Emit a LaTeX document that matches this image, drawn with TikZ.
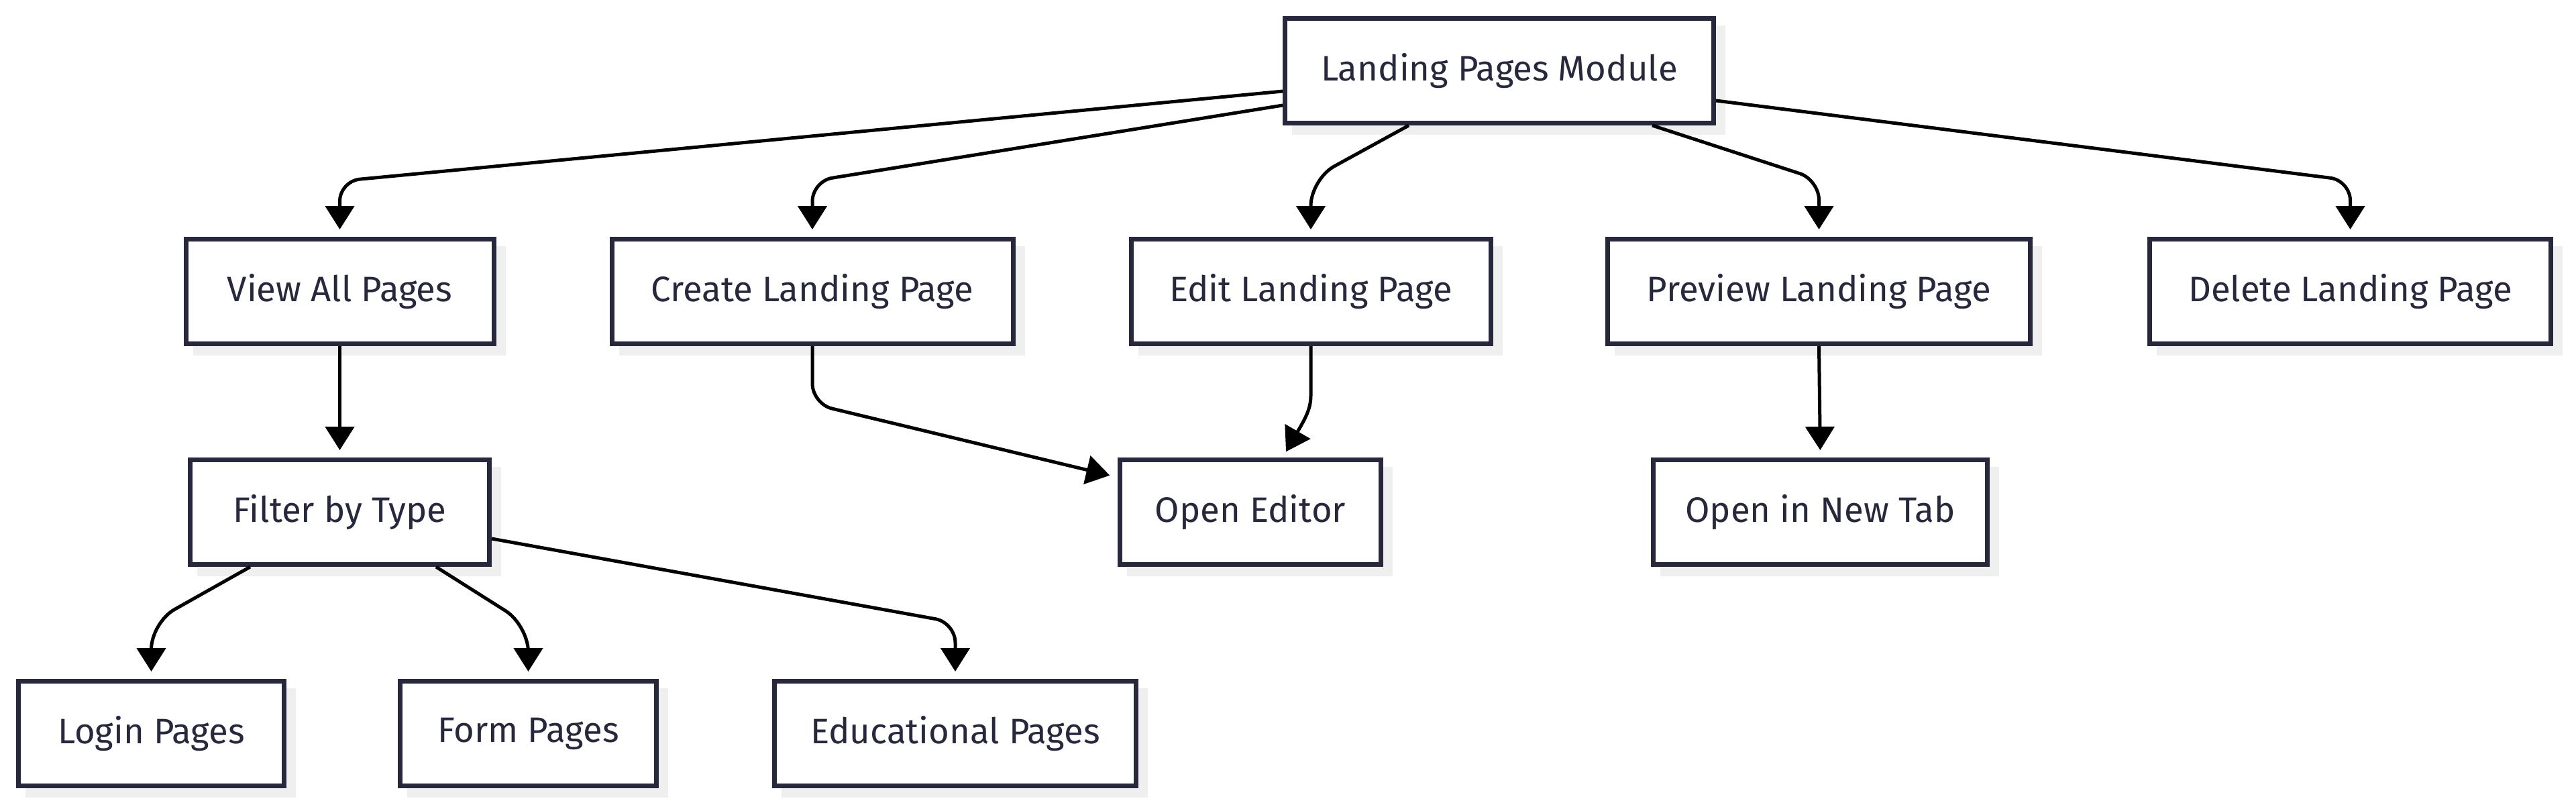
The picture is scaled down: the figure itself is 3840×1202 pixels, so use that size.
\documentclass[tikz,border=0pt]{standalone}
\usepackage{fontspec}
\setmainfont{Fira Sans}
\usetikzlibrary{arrows.meta,calc,shadows}
\definecolor{bordc}{RGB}{40,40,61}
\definecolor{shadc}{RGB}{239,239,239}
\begin{document}
\begin{tikzpicture}[x=0.1mm,y=-0.1mm,
  box/.style={draw=bordc,line width=0.7mm,fill=white,rectangle,inner sep=0pt,
    minimum height=15.6mm,text=bordc,font=\fontsize{15pt}{18pt}\selectfont,
    general shadow={shadow xshift=1.4mm,shadow yshift=-1.4mm,fill=shadc,draw=shadc,line width=0.7mm}},
  edge/.style={line width=0.5mm,black,rounded corners=3mm,
    -{Triangle[length=3.5mm,width=4.3mm]},shorten >=1.1mm}]
\useasboundingbox (0,0) rectangle (3840,1202);
\node[box,minimum width=63.9mm] (M) at (2235,105.5) {Landing Pages Module};
\node[box,minimum width=45.9mm] (V) at (506.5,434.5) {View All Pages};
\node[box,minimum width=59.8mm] (C) at (1211,434.5) {Create Landing Page};
\node[box,minimum width=53.6mm] (E) at (1954,434.5) {Edit Landing Page};
\node[box,minimum width=63.0mm] (P) at (2711.5,434.5) {Preview Landing Page};
\node[box,minimum width=59.8mm] (D) at (3503.5,434.5) {Delete Landing Page};
\node[box,minimum width=44.6mm] (F) at (506.5,763.5) {Filter by Type};
\node[box,minimum width=38.9mm] (O) at (1864,763.5) {Open Editor};
\node[box,minimum width=49.8mm] (N) at (2713.5,763.5) {Open in New Tab};
\node[box,minimum width=39.6mm] (L) at (225.5,1093.5) {Login Pages};
\node[box,minimum width=38.2mm] (Fo) at (787.5,1093.5) {Form Pages};
\node[box,minimum width=53.9mm] (Ed) at (1424,1093.5) {Educational Pages};
% edges from module
\draw[edge] ($(M.west)+(0,30.5)$) -- (V.north |- 0,270) -- (V.north);
\draw[edge] ($(M.west)+(0,51.5)$) -- (C.north |- 0,270) -- (C.north);
\draw[edge,rounded corners=4mm] ($(M.south)+(-135,0)$) -- (E.north |- 0,267) -- (E.north);
\draw[edge] ($(M.south)+(228,0)$) -- (P.north |- 0,268) -- (P.north);
\draw[edge] ($(M.east)+(0,44.5)$) -- (D.north |- 0,269) -- (D.north);
% second level
\draw[edge] (V.south) -- (F.north);
\draw[edge,shorten >=1.2mm] (C.south) -- (C.south |- 0,602) -- ($(O.west)+(0,-52)$);
\draw[edge,shorten >=1mm] (E.south) -- (E.south |- 0,560) .. controls (1954,610) and (1945,625) .. ($(O.north)+(48,0)$);
\draw[edge] (P.south) -- (N.north);
% filter children
\draw[edge,rounded corners=4mm] ($(F.south)+(-133.5,0)$) -- (L.north |- 0,928) -- (L.north);
\draw[edge,rounded corners=4mm] ($(F.south)+(143.5,0)$) -- (Fo.north |- 0,932) -- (Fo.north);
\draw[edge] ($(F.east)+(0,39.5)$) -- (Ed.north |- 0,928) -- (Ed.north);
\end{tikzpicture}
\end{document}
